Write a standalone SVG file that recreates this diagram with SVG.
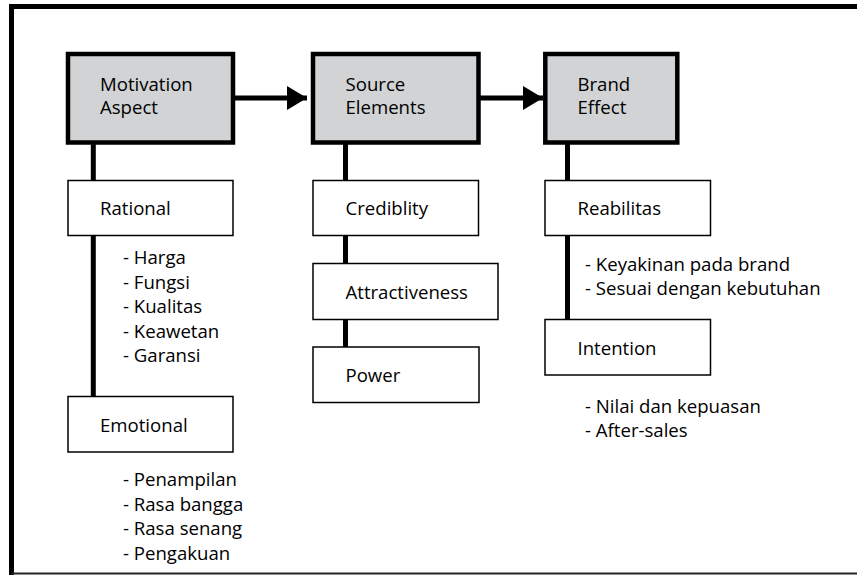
<svg xmlns="http://www.w3.org/2000/svg" width="857" height="575" viewBox="0 0 857 575">
<style>
.head{fill:#d1d3d4;stroke:#000;stroke-width:4.5}
.sub{fill:#fff;stroke:#000;stroke-width:1.5}
.t{font-family:"Open Sans","Noto Sans",sans-serif;font-size:18.6px;fill:#000}
.c{stroke:#000;stroke-width:5;fill:none}
</style>
<defs>
<marker id="ah" markerUnits="userSpaceOnUse" markerWidth="20" markerHeight="24" refX="20" refY="12" orient="auto">
<path d="M0,0 L20,12 L0,24 Z" fill="#000"/>
</marker>
</defs>
<rect width="857" height="575" fill="#fff"/>
<g id="frame">
<path d="M857,6.5 H11.5 V575" fill="none" stroke="#000" stroke-width="5"/>
<line x1="11.5" y1="573.5" x2="857" y2="573.5" stroke="#222" stroke-width="2"/>
</g>
<g id="connectors">
<line class="c" x1="233" y1="98" x2="307" y2="98" stroke-width="5.5" marker-end="url(#ah)"/>
<line class="c" x1="478.5" y1="98" x2="543" y2="98" stroke-width="5.5" marker-end="url(#ah)"/>
<line class="c" x1="93.3" y1="144" x2="93.3" y2="181"/>
<line class="c" x1="93.3" y1="235" x2="93.3" y2="397"/>
<line class="c" x1="345.5" y1="144" x2="345.5" y2="181"/>
<line class="c" x1="345.5" y1="235" x2="345.5" y2="264"/>
<line class="c" x1="345.5" y1="319" x2="345.5" y2="348"/>
<line class="c" x1="567.5" y1="144" x2="567.5" y2="181"/>
<line class="c" x1="567.5" y1="235" x2="567.5" y2="320"/>
</g>
<g id="motivation">
<rect class="head" x="68" y="54" width="165" height="88.5"/>
<text class="t" x="100" y="90.5">Motivation</text>
<text class="t" x="100" y="114">Aspect</text>
</g>
<g id="source">
<rect class="head" x="313" y="54" width="165.5" height="88.5"/>
<text class="t" x="345.5" y="90.5">Source</text>
<text class="t" x="345.5" y="114">Elements</text>
</g>
<g id="brand">
<rect class="head" x="545.3" y="54" width="132" height="88.5"/>
<text class="t" x="577.5" y="90.5">Brand</text>
<text class="t" x="577.5" y="114">Effect</text>
</g>
<g id="rational">
<rect class="sub" x="68" y="180.5" width="165" height="55"/>
<text class="t" x="100" y="215">Rational</text>
</g>
<g id="rational-items">
<text class="t" x="123" y="264">- Harga</text>
<text class="t" x="123" y="288.5">- Fungsi</text>
<text class="t" x="123" y="313">- Kualitas</text>
<text class="t" x="123" y="337.5">- Keawetan</text>
<text class="t" x="123" y="362">- Garansi</text>
</g>
<g id="emotional">
<rect class="sub" x="68" y="396.5" width="165" height="55.5"/>
<text class="t" x="100" y="431.5">Emotional</text>
</g>
<g id="emotional-items">
<text class="t" x="123" y="486">- Penampilan</text>
<text class="t" x="123" y="510.5">- Rasa bangga</text>
<text class="t" x="123" y="535">- Rasa senang</text>
<text class="t" x="123" y="559.5">- Pengakuan</text>
</g>
<g id="credibility">
<rect class="sub" x="313" y="180.5" width="165.5" height="55"/>
<text class="t" x="345.5" y="215">Crediblity</text>
</g>
<g id="attractiveness">
<rect class="sub" x="313" y="263.5" width="185" height="56"/>
<text class="t" x="345.5" y="298.5">Attractiveness</text>
</g>
<g id="power">
<rect class="sub" x="313" y="347" width="166" height="55.5"/>
<text class="t" x="345.5" y="381.5">Power</text>
</g>
<g id="reabilitas">
<rect class="sub" x="545" y="180.5" width="165.5" height="55"/>
<text class="t" x="577.5" y="215">Reabilitas</text>
</g>
<g id="reabilitas-items">
<text class="t" x="585" y="270.5">- Keyakinan pada brand</text>
<text class="t" x="585" y="295">- Sesuai dengan kebutuhan</text>
</g>
<g id="intention">
<rect class="sub" x="545" y="319.5" width="165.5" height="55.5"/>
<text class="t" x="577.5" y="354.5">Intention</text>
</g>
<g id="intention-items">
<text class="t" x="585" y="412.5">- Nilai dan kepuasan</text>
<text class="t" x="585" y="437">- After-sales</text>
</g>
</svg>
